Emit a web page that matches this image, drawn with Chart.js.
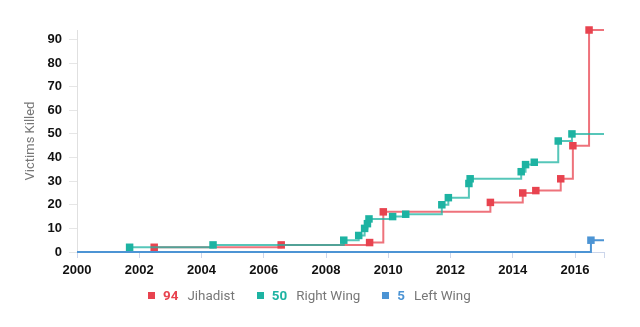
<!DOCTYPE html>
<html>
<head>
<meta charset="utf-8">
<script src="https://cdn.jsdelivr.net/npm/chart.js@4/dist/chart.umd.min.js"></script>
<style>
  html, body { margin: 0; padding: 0; background: #fff; }
  #wrap { position: relative; width: 640px; height: 327px; }
  #chart { position: absolute; left: 0; top: 0; }
  #legend {
    position: absolute; left: 148px; top: 288px;
    display: flex; gap: 22px;
    font-family: Roboto, "Open Sans", sans-serif; font-size: 13.4px; color: #777;
  }
  .item { display: flex; align-items: center; white-space: nowrap; }
  .sw { width: 7px; height: 7px; margin-right: 8px; }
  .num { font-weight: bold; margin-right: 9px; }
</style>
</head>
<body>
<div id="wrap">
  <canvas id="chart" width="640" height="327"></canvas>
  <div id="legend"></div>
</div>
<script>
// Axis range (decimal years)
const xStart = 2000;
const xEnd = 2016.93;

// Cumulative victims killed, by attack date
const seriesNames = ['Jihadist', 'Right Wing', 'Left Wing'];
const seriesColors = ['#e8434f', '#1db3a2', '#4c94d4'];
const seriesLineColors = ['rgba(232,67,79,0.75)', 'rgba(29,179,162,0.75)', 'rgba(76,148,212,1)'];

const jihadistYears  = [2002.48, 2006.56, 2009.40, 2009.84, 2013.28, 2014.32, 2014.74, 2015.54, 2015.93, 2016.45];
const jihadistKilled = [2, 3, 4, 17, 21, 25, 26, 31, 45, 94];

const rightWingYears  = [2001.69, 2004.37, 2008.57, 2009.05, 2009.24, 2009.33, 2009.38, 2010.14, 2010.56,
                         2011.72, 2011.93, 2012.59, 2012.63, 2014.27, 2014.41, 2014.69, 2015.46, 2015.90];
const rightWingKilled = [2, 3, 5, 7, 10, 12, 14, 15, 16, 20, 23, 29, 31, 34, 37, 38, 47, 50];

const leftWingYears  = [2016.51];
const leftWingKilled = [5];

const yTicks = [0, 10, 20, 30, 40, 50, 60, 70, 80, 90];
const xTickYears = [2000, 2002, 2004, 2006, 2008, 2010, 2012, 2014, 2016];

// Each series runs from 0 at the axis start to its total at the axis end
function buildPoints(years, killed) {
  const pts = [{ x: xStart, y: 0 }];
  years.forEach((yr, i) => pts.push({ x: yr, y: killed[i] }));
  pts.push({ x: xEnd, y: killed[killed.length - 1] });
  return pts;
}

const seriesData = [
  buildPoints(jihadistYears, jihadistKilled),
  buildPoints(rightWingYears, rightWingKilled),
  buildPoints(leftWingYears, leftWingKilled)
];
const totals = [jihadistKilled, rightWingKilled, leftWingKilled].map(a => a[a.length - 1]);
const drawOrder = [2, 1, 0];

const datasets = seriesNames.map((name, i) => ({
  label: name,
  data: seriesData[i],
  stepped: true,
  borderColor: seriesLineColors[i],
  borderWidth: 2,
  backgroundColor: seriesColors[i],
  pointBackgroundColor: seriesColors[i],
  pointBorderWidth: 0,
  pointStyle: 'rect',
  pointRadius: ctx => (ctx.dataIndex === 0 || ctx.dataIndex === seriesData[i].length - 1) ? 0 : 5.3,
  order: drawOrder[i],
  clip: false,
  fill: false
}));

new Chart(document.getElementById('chart'), {
  type: 'line',
  data: { datasets },
  options: {
    responsive: false,
    animation: false,
    layout: { padding: { left: 23, right: 36, top: 30, bottom: 0 } },
    plugins: { legend: { display: false }, tooltip: { enabled: false } },
    scales: {
      x: {
        type: 'linear',
        min: xStart,
        max: xEnd,
        afterFit: s => { s.height = 75; },
        afterBuildTicks: s => {
          s.ticks = xTickYears.map(v => ({ value: v })).concat([{ value: xEnd }]);
        },
        ticks: {
          autoSkip: false,
          maxRotation: 0,
          padding: 5,
          color: '#111',
          font: { family: '"Liberation Sans", Arial, sans-serif', size: 13, weight: 'bold' },
          callback: v => (xTickYears.includes(v) ? String(v) : '')
        },
        grid: { drawOnChartArea: false, drawTicks: true, tickLength: 6, color: '#ccd6eb' },
        border: { display: true, color: '#ccd6eb' }
      },
      y: {
        min: 0,
        max: 94,
        afterFit: s => { s.width = 54; },
        afterBuildTicks: s => { s.ticks = yTicks.map(v => ({ value: v })); },
        ticks: {
          padding: 7,
          color: '#111',
          font: { family: '"Liberation Sans", Arial, sans-serif', size: 13, weight: 'bold' }
        },
        grid: { drawOnChartArea: false, drawTicks: true, tickLength: 8, color: '#e6e6e6' },
        border: { display: true, color: '#e0e0e0' },
        title: {
          display: true,
          text: 'Victims Killed',
          color: '#777',
          padding: { top: 0, bottom: 4 },
          font: { family: 'Roboto, "Open Sans", sans-serif', size: 13 }
        }
      }
    }
  }
});

// Legend: marker, series total, series name
const legend = document.getElementById('legend');
seriesNames.forEach((name, i) => {
  const item = document.createElement('div');
  item.className = 'item';
  const sw = document.createElement('span');
  sw.className = 'sw';
  sw.style.background = seriesColors[i];
  const num = document.createElement('span');
  num.className = 'num';
  num.style.color = seriesColors[i];
  num.textContent = totals[i];
  const lab = document.createElement('span');
  lab.textContent = name;
  item.append(sw, num, lab);
  legend.appendChild(item);
});
</script>
</body>
</html>
